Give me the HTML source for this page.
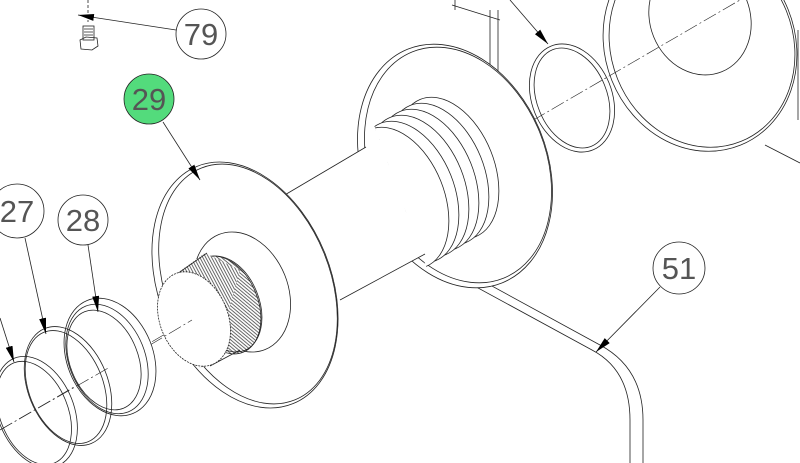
<!DOCTYPE html>
<html><head><meta charset="utf-8"><style>
html,body{margin:0;padding:0;background:#fff;}
svg{display:block;}
text{font-family:"Liberation Sans",sans-serif;}
</style></head><body>
<svg width="800" height="463" viewBox="0 0 800 463" xmlns="http://www.w3.org/2000/svg">
<defs>
<marker id="ah" viewBox="0 0 16 7" refX="16" refY="3.5" markerWidth="16" markerHeight="7" orient="auto" markerUnits="userSpaceOnUse"><path d="M0,0 L16,3.5 L0,7 z" fill="#000"/></marker>
<pattern id="hatch" patternUnits="userSpaceOnUse" width="2.6" height="10" patternTransform="rotate(-28)">
<rect width="2.6" height="10" fill="#fff"/><line x1="1" y1="0" x2="1" y2="10" stroke="#444" stroke-width="0.8"/>
</pattern>
<clipPath id="gclip"><polygon points="350,60 620,60 620,320 443,312"/></clipPath>
</defs>
<g fill="none" stroke="#222" stroke-width="0.8">
<line x1="0" y1="430" x2="740" y2="0" stroke-dasharray="14,3,2,3" stroke-width="0.6"/>
<ellipse cx="700" cy="45" rx="95" ry="108" transform="rotate(-22 700 45)"/>
<ellipse cx="702" cy="45" rx="91" ry="104" transform="rotate(-22 702 45)"/>
<ellipse cx="700" cy="18" rx="50" ry="58" transform="rotate(-22 700 18)"/>
<line x1="765" y1="145" x2="800" y2="163"/>
<line x1="798" y1="30" x2="798" y2="120"/>
<ellipse cx="572" cy="98" rx="40" ry="56" transform="rotate(-22 572 98)"/>
<ellipse cx="572" cy="98" rx="35" ry="52" transform="rotate(-22 572 98)"/>
<path d="M490,10 L490,90 M498,10 L498,90 M452,5 L500,20 M455,0 L455,10"/>
<path d="M412,252 L592,350 Q630,370 630,420 L630,463"/>
<path d="M426,250 L600,345 Q643,368 643,420 L643,463"/>
<ellipse cx="455" cy="166" rx="92" ry="126" transform="rotate(-22 455 166)" fill="#fff"/>
<ellipse cx="458" cy="165" rx="88" ry="122" transform="rotate(-22 458 165)"/>
<g fill="#fff" clip-path="url(#gclip)">
<ellipse cx="448" cy="168" rx="46" ry="74" transform="rotate(-22 448 168)"/>
<ellipse cx="438" cy="174" rx="46" ry="74" transform="rotate(-22 438 174)"/>
<ellipse cx="428" cy="180" rx="46" ry="74" transform="rotate(-22 428 180)"/>
<ellipse cx="418" cy="186" rx="46" ry="74" transform="rotate(-22 418 186)"/>
<ellipse cx="408" cy="192" rx="46" ry="74" transform="rotate(-22 408 192)"/>
<ellipse cx="398" cy="198" rx="46" ry="74" transform="rotate(-22 398 198)"/>
</g>
<path d="M283,196 L366,147 L425,254 L340,300 Z" fill="#fff" stroke="none"/>
<line x1="283" y1="196" x2="366" y2="147"/>
<line x1="340" y1="300" x2="425" y2="254"/>
<ellipse cx="245" cy="285" rx="86" ry="128" transform="rotate(-22 245 285)" fill="#fff"/>
<ellipse cx="248" cy="284" rx="82" ry="125" transform="rotate(-22 248 284)"/>
<ellipse cx="242" cy="292" rx="46" ry="62" transform="rotate(-22 242 292)"/>
<ellipse cx="224" cy="305" rx="34" ry="51" transform="rotate(-22 224 305)" fill="url(#hatch)"/>
<ellipse cx="226" cy="304" rx="33" ry="50" transform="rotate(-22 226 304)"/>
<path d="M176,274 L205,253 L240,270 L214,362 L200,368 Z" fill="url(#hatch)" stroke="none"/>
<line x1="177" y1="274" x2="207" y2="253"/>
<line x1="210" y1="366" x2="240" y2="350"/>
<ellipse cx="194" cy="319" rx="34" ry="49" transform="rotate(-22 194 319)" fill="#fff" stroke-dasharray="2,1"/>
<line x1="150" y1="345" x2="192" y2="320" stroke-dasharray="14,3,2,3" stroke-width="0.6"/>
<ellipse cx="110" cy="357" rx="43" ry="61" transform="rotate(-22 110 357)" fill="#fff"/>
<ellipse cx="107" cy="359" rx="38" ry="57" transform="rotate(-22 107 359)"/>
<ellipse cx="104" cy="360" rx="34" ry="52" transform="rotate(-22 104 360)"/>
<ellipse cx="68" cy="386" rx="40" ry="62" transform="rotate(-22 68 386)"/>
<ellipse cx="66" cy="387" rx="37" ry="59" transform="rotate(-22 66 387)"/>
<ellipse cx="36" cy="412" rx="38" ry="58" transform="rotate(-22 36 412)"/>
<ellipse cx="34" cy="413" rx="34" ry="54" transform="rotate(-22 34 413)"/>
<line x1="0" y1="430" x2="110" y2="367" stroke-dasharray="14,3,2,3" stroke-width="0.6"/>
<line x1="88" y1="0" x2="88" y2="22" stroke-dasharray="3,2"/>
<rect x="83" y="26" width="11" height="14"/>
<path d="M84,29 H93 M84,32 H93 M84,35 H93"/>
<path d="M80,40 L86,37 L97,38 L98,46 L92,50 L81,49 Z"/>
<line x1="176" y1="30" x2="78" y2="15" marker-end="url(#ah)"/>
<line x1="163" y1="122" x2="200" y2="180" marker-end="url(#ah)"/>
<line x1="25" y1="238" x2="46" y2="334" marker-end="url(#ah)"/>
<line x1="88" y1="245" x2="98" y2="312" marker-end="url(#ah)"/>
<line x1="0" y1="318" x2="14" y2="362" marker-end="url(#ah)"/>
<line x1="510" y1="0" x2="548" y2="44" marker-end="url(#ah)"/>
<line x1="660" y1="287" x2="596" y2="352" marker-end="url(#ah)"/>
</g>
<g stroke="#222" stroke-width="0.8">
<circle cx="201" cy="34" r="25" fill="#fff"/>
<circle cx="149" cy="99" r="25" fill="#53db7c"/>
<circle cx="17" cy="211" r="27" fill="#fff"/>
<circle cx="83" cy="220" r="25" fill="#fff"/>
<circle cx="679" cy="268" r="26" fill="#fff"/>
</g>
<g font-size="31" fill="#555" text-anchor="middle" style="font-weight:normal">
<text x="201" y="45">79</text>
<text x="149" y="110">29</text>
<text x="17" y="222">27</text>
<text x="83" y="231">28</text>
<text x="679" y="279">51</text>
</g>
</svg>
</body></html>
